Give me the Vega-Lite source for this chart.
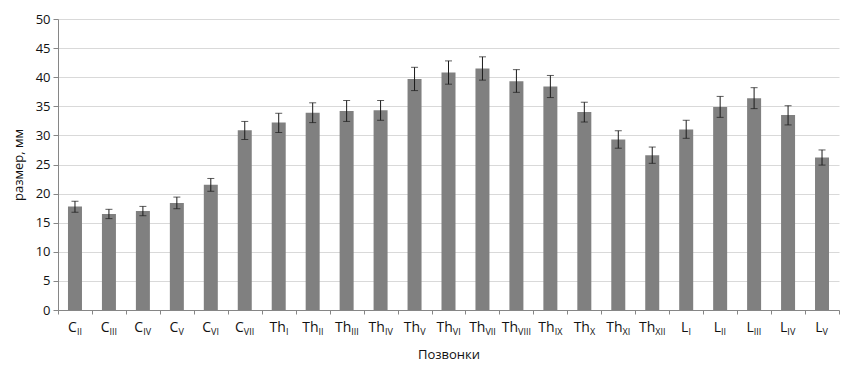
{
  "$schema": "https://vega.github.io/schema/vega-lite/v6.json",
  "width": 781,
  "height": 291,
  "autosize": {"type": "none"},
  "padding": {"left": 58, "top": 19, "right": 18, "bottom": 59},
  "background": "white",
  "config": {
    "view": {"stroke": null},
    "font": "Open Sans",
    "axisY": {
      "grid": true,
      "gridColor": "#d9d9d9",
      "domainColor": "#868686",
      "tickColor": "#868686",
      "tickSize": 5,
      "labelPadding": 3,
      "labelFontSize": 13,
      "labelColor": "#111111",
      "titleFontSize": 13,
      "titleFontWeight": "normal",
      "titleColor": "#111111",
      "titlePadding": 10,
      "labelOverlap": false
    }
  },
  "data": {
    "values": [
      {"key": "CII", "base": "C", "sub": "II", "value": 17.8, "lo": 16.8, "hi": 18.7},
      {"key": "CIII", "base": "C", "sub": "III", "value": 16.5, "lo": 15.7, "hi": 17.3},
      {"key": "CIV", "base": "C", "sub": "IV", "value": 17.0, "lo": 16.2, "hi": 17.8},
      {"key": "CV", "base": "C", "sub": "V", "value": 18.4, "lo": 17.4, "hi": 19.4},
      {"key": "CVI", "base": "C", "sub": "VI", "value": 21.5, "lo": 20.4, "hi": 22.6},
      {"key": "CVII", "base": "C", "sub": "VII", "value": 30.9, "lo": 29.3, "hi": 32.4},
      {"key": "ThI", "base": "Th", "sub": "I", "value": 32.2, "lo": 30.5, "hi": 33.8},
      {"key": "ThII", "base": "Th", "sub": "II", "value": 33.9, "lo": 32.2, "hi": 35.6},
      {"key": "ThIII", "base": "Th", "sub": "III", "value": 34.2, "lo": 32.4, "hi": 36.0},
      {"key": "ThIV", "base": "Th", "sub": "IV", "value": 34.3, "lo": 32.6, "hi": 36.0},
      {"key": "ThV", "base": "Th", "sub": "V", "value": 39.7, "lo": 37.7, "hi": 41.7},
      {"key": "ThVI", "base": "Th", "sub": "VI", "value": 40.8, "lo": 38.8, "hi": 42.8},
      {"key": "ThVII", "base": "Th", "sub": "VII", "value": 41.5, "lo": 39.5, "hi": 43.5},
      {"key": "ThVIII", "base": "Th", "sub": "VIII", "value": 39.3, "lo": 37.4, "hi": 41.3},
      {"key": "ThIX", "base": "Th", "sub": "IX", "value": 38.4, "lo": 36.5, "hi": 40.3},
      {"key": "ThX", "base": "Th", "sub": "X", "value": 34.0, "lo": 32.3, "hi": 35.7},
      {"key": "ThXI", "base": "Th", "sub": "XI", "value": 29.3, "lo": 27.8, "hi": 30.8},
      {"key": "ThXII", "base": "Th", "sub": "XII", "value": 26.6, "lo": 25.2, "hi": 28.0},
      {"key": "LI", "base": "L", "sub": "I", "value": 31.0, "lo": 29.5, "hi": 32.6},
      {"key": "LII", "base": "L", "sub": "II", "value": 34.9, "lo": 33.1, "hi": 36.7},
      {"key": "LIII", "base": "L", "sub": "III", "value": 36.4, "lo": 34.6, "hi": 38.2},
      {"key": "LIV", "base": "L", "sub": "IV", "value": 33.5, "lo": 31.8, "hi": 35.1},
      {"key": "LV", "base": "L", "sub": "V", "value": 26.2, "lo": 24.9, "hi": 27.5}
    ]
  },
  "encoding": {
    "x": {
      "field": "key",
      "type": "nominal",
      "sort": null,
      "scale": {"paddingInner": 0, "paddingOuter": 0},
      "axis": {
        "labels": false,
        "title": "Позвонки",
        "tickBand": "extent",
        "domainColor": "#868686",
        "tickColor": "#868686",
        "tickSize": 4,
        "grid": false,
        "titlePadding": 34,
        "titleFontWeight": "normal",
        "titleFontSize": 13,
        "titleColor": "#111111"
      }
    }
  },
  "layer": [
    {
      "mark": {"type": "bar", "size": 14, "color": "#808080"},
      "encoding": {
        "y": {
          "field": "value",
          "type": "quantitative",
          "title": "размер, мм",
          "scale": {"domain": [0, 50], "nice": false},
          "axis": {"values": [0, 5, 10, 15, 20, 25, 30, 35, 40, 45, 50]}
        }
      }
    },
    {
      "mark": {"type": "errorbar", "color": "#1a1a1a", "ticks": {"size": 7}},
      "encoding": {
        "y": {"field": "lo", "type": "quantitative", "title": "размер, мм", "axis": {"values": [0, 5, 10, 15, 20, 25, 30, 35, 40, 45, 50]}},
        "y2": {"field": "hi"}
      }
    },
    {
      "mark": {
        "type": "text",
        "align": "right",
        "baseline": "alphabetic",
        "fontSize": 14,
        "color": "#111111",
        "dy": 22,
        "dx": {"expr": "(datum.base=='Th'?17:datum.base=='C'?9:7)/2 - (2.6*length(replace(datum.sub, regexp('[VX]','g'), '')) + 5.8*(length(datum.sub)-length(replace(datum.sub, regexp('[VX]','g'), ''))))/2"}
      },
      "encoding": {
        "y": {"datum": 0, "type": "quantitative", "title": "размер, мм", "axis": {"values": [0, 5, 10, 15, 20, 25, 30, 35, 40, 45, 50]}},
        "text": {"field": "base"}
      }
    },
    {
      "mark": {
        "type": "text",
        "align": "left",
        "baseline": "alphabetic",
        "fontSize": 9,
        "color": "#111111",
        "dy": 25,
        "dx": {"expr": "(datum.base=='Th'?17:datum.base=='C'?9:7)/2 - (2.6*length(replace(datum.sub, regexp('[VX]','g'), '')) + 5.8*(length(datum.sub)-length(replace(datum.sub, regexp('[VX]','g'), ''))))/2"}
      },
      "encoding": {
        "y": {"datum": 0, "type": "quantitative", "title": "размер, мм", "axis": {"values": [0, 5, 10, 15, 20, 25, 30, 35, 40, 45, 50]}},
        "text": {"field": "sub"}
      }
    }
  ]
}
